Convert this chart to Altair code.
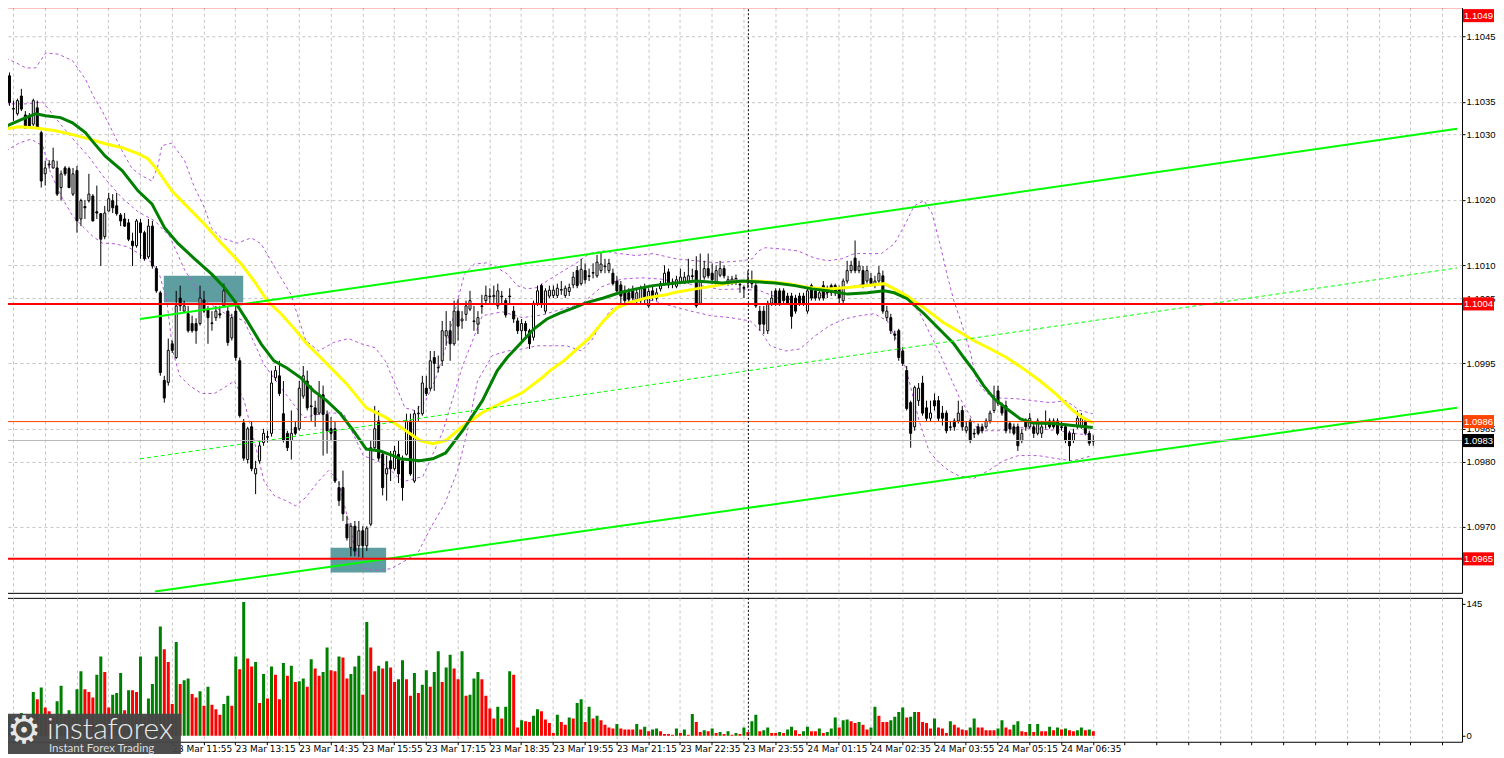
import altair as alt
import pandas as pd

# ---------------- candle data (EURUSD M5, 23-24 Mar) ----------------
opens = [
    1.10400, 1.10390, 1.10340, 1.10332, 1.10359, 1.10330, 1.10327, 1.10316, 1.10341, 1.10303,
    1.10240, 1.10254, 1.10249, 1.10249, 1.10219, 1.10249, 1.10248, 1.10209, 1.10245, 1.10171,
    1.10190, 1.10199, 1.10206, 1.10182, 1.10179, 1.10144, 1.10183, 1.10199, 1.10191, 1.10177,
    1.10171, 1.10165, 1.10137, 1.10130, 1.10165, 1.10150, 1.10113, 1.10160, 1.10095, 1.10058,
    1.09924, 1.09921, 1.09980, 1.09959, 1.10050, 1.10030, 1.10026, 1.10011, 1.10011, 1.10011,
    1.10047, 1.10033, 1.10012, 1.10020, 1.10026, 1.10038, 1.10030, 1.09989, 1.10030, 1.09954,
    1.09859, 1.09803, 1.09853, 1.09781, 1.09801, 1.09829, 1.09838, 1.09843, 1.09928, 1.09931,
    1.09873, 1.09843, 1.09832, 1.09852, 1.09850, 1.09900, 1.09923, 1.09885, 1.09882, 1.09874,
    1.09902, 1.09872, 1.09850, 1.09850, 1.09760, 1.09760, 1.09704, 1.09668, 1.09701, 1.09671,
    1.09694, 1.09671, 1.09704, 1.09821, 1.09862, 1.09811, 1.09781, 1.09801, 1.09789, 1.09811,
    1.09801, 1.09811, 1.09862, 1.09770, 1.09873, 1.09873, 1.09912, 1.09912, 1.09959, 1.09943,
    1.09954, 1.09992, 1.10000, 1.09980, 1.10030, 1.10015, 1.10025, 1.10033, 1.10015, 1.10010,
    1.10038, 1.10046, 1.10053, 1.10052, 1.10038, 1.10053, 1.10046, 1.10053, 1.10030, 1.10015,
    1.10000, 1.10011, 1.10000, 1.09990, 1.10042, 1.10069, 1.10030, 1.10053, 1.10054, 1.10054,
    1.10062, 1.10054, 1.10060, 1.10070, 1.10092, 1.10072, 1.10092, 1.10084, 1.10088, 1.10084,
    1.10092, 1.10099, 1.10092, 1.10088, 1.10076, 1.10070, 1.10061, 1.10058, 1.10061, 1.10048,
    1.10046, 1.10065, 1.10038, 1.10061, 1.10050, 1.10064, 1.10072, 1.10090, 1.10072, 1.10068,
    1.10075, 1.10075, 1.10075, 1.10084, 1.10092, 1.10042, 1.10082, 1.10095, 1.10088, 1.10072,
    1.10085, 1.10095, 1.10072, 1.10074, 1.10074, 1.10071, 1.10066, 1.10073, 1.10076, 1.10069,
    1.10030, 1.10030, 1.10000, 1.10042, 1.10061, 1.10061, 1.10061, 1.10053, 1.10053, 1.10050,
    1.10053, 1.10053, 1.10030, 1.10069, 1.10061, 1.10050, 1.10069, 1.10065, 1.10069, 1.10069,
    1.10065, 1.10046, 1.10076, 1.10092, 1.10111, 1.10092, 1.10092, 1.10076, 1.10080, 1.10069,
    1.10076, 1.10084, 1.10020, 1.10020, 1.09995, 1.10000, 1.09969, 1.09939, 1.09890, 1.09853,
    1.09893, 1.09920, 1.09882, 1.09866, 1.09893, 1.09893, 1.09874, 1.09874, 1.09853, 1.09862,
    1.09862, 1.09878, 1.09847, 1.09862, 1.09843, 1.09853, 1.09853, 1.09853, 1.09862, 1.09878,
    1.09908, 1.09885, 1.09885, 1.09858, 1.09853, 1.09853, 1.09832, 1.09862, 1.09853, 1.09853,
    1.09843, 1.09843, 1.09858, 1.09862, 1.09862, 1.09862, 1.09853, 1.09853, 1.09843, 1.09832,
    1.09853, 1.09853, 1.09862, 1.09843, 1.09832,
]
highs = [
    1.10410, 1.10395, 1.10352, 1.10355, 1.10370, 1.10336, 1.10333, 1.10355, 1.10352, 1.10306,
    1.10260, 1.10261, 1.10280, 1.10260, 1.10245, 1.10252, 1.10251, 1.10249, 1.10252, 1.10202,
    1.10200, 1.10240, 1.10209, 1.10222, 1.10180, 1.10191, 1.10211, 1.10209, 1.10211, 1.10180,
    1.10180, 1.10171, 1.10150, 1.10171, 1.10171, 1.10153, 1.10171, 1.10168, 1.10099, 1.10061,
    1.09931, 1.09988, 1.09985, 1.10061, 1.10069, 1.10046, 1.10038, 1.10023, 1.10019, 1.10069,
    1.10061, 1.10038, 1.10030, 1.10038, 1.10038, 1.10072, 1.10038, 1.10026, 1.10046, 1.09959,
    1.09865, 1.09853, 1.09862, 1.09801, 1.09832, 1.09850, 1.09847, 1.09939, 1.09946, 1.09954,
    1.09923, 1.09847, 1.09878, 1.09862, 1.09923, 1.09946, 1.09939, 1.09916, 1.09893, 1.09923,
    1.09916, 1.09878, 1.09868, 1.09862, 1.09770, 1.09786, 1.09717, 1.09706, 1.09709, 1.09709,
    1.09701, 1.09701, 1.09832, 1.09885, 1.09878, 1.09816, 1.09809, 1.09816, 1.09824, 1.09832,
    1.09809, 1.09873, 1.09873, 1.09878, 1.09885, 1.09931, 1.09931, 1.09969, 1.09969, 1.09962,
    1.10015, 1.10030, 1.10015, 1.10046, 1.10049, 1.10030, 1.10046, 1.10061, 1.10038, 1.10030,
    1.10055, 1.10069, 1.10065, 1.10069, 1.10072, 1.10061, 1.10050, 1.10065, 1.10038, 1.10020,
    1.10018, 1.10015, 1.10003, 1.10046, 1.10069, 1.10072, 1.10065, 1.10069, 1.10069, 1.10072,
    1.10076, 1.10069, 1.10072, 1.10090, 1.10099, 1.10110, 1.10103, 1.10095, 1.10103, 1.10116,
    1.10120, 1.10110, 1.10110, 1.10095, 1.10084, 1.10076, 1.10069, 1.10065, 1.10069, 1.10065,
    1.10069, 1.10072, 1.10065, 1.10069, 1.10065, 1.10076, 1.10100, 1.10095, 1.10080, 1.10084,
    1.10095, 1.10090, 1.10110, 1.10095, 1.10114, 1.10118, 1.10107, 1.10118, 1.10103, 1.10100,
    1.10107, 1.10100, 1.10084, 1.10084, 1.10086, 1.10078, 1.10069, 1.10092, 1.10092, 1.10076,
    1.10038, 1.10038, 1.10046, 1.10061, 1.10065, 1.10065, 1.10065, 1.10058, 1.10058, 1.10055,
    1.10058, 1.10058, 1.10065, 1.10072, 1.10065, 1.10065, 1.10076, 1.10069, 1.10072, 1.10072,
    1.10069, 1.10080, 1.10107, 1.10107, 1.10138, 1.10107, 1.10099, 1.10099, 1.10088, 1.10084,
    1.10099, 1.10092, 1.10038, 1.10026, 1.10000, 1.10003, 1.09975, 1.09946, 1.09893, 1.09916,
    1.09920, 1.09931, 1.09893, 1.09893, 1.09904, 1.09900, 1.09885, 1.09878, 1.09862, 1.09866,
    1.09893, 1.09885, 1.09862, 1.09866, 1.09850, 1.09858, 1.09858, 1.09866, 1.09878, 1.09916,
    1.09916, 1.09890, 1.09893, 1.09862, 1.09858, 1.09858, 1.09850, 1.09866, 1.09874, 1.09858,
    1.09866, 1.09862, 1.09878, 1.09866, 1.09866, 1.09866, 1.09862, 1.09858, 1.09847, 1.09850,
    1.09878, 1.09874, 1.09866, 1.09847, 1.09840,
]
lows = [
    1.10375, 1.10344, 1.10321, 1.10329, 1.10336, 1.10309, 1.10309, 1.10313, 1.10309, 1.10219,
    1.10222, 1.10248, 1.10248, 1.10206, 1.10199, 1.10237, 1.10218, 1.10206, 1.10150, 1.10160,
    1.10171, 1.10196, 1.10167, 1.10171, 1.10099, 1.10140, 1.10183, 1.10180, 1.10176, 1.10160,
    1.10159, 1.10137, 1.10099, 1.10127, 1.10110, 1.10107, 1.10110, 1.10095, 1.10058, 1.09931,
    1.09890, 1.09916, 1.09966, 1.09957, 1.10030, 1.10027, 1.09997, 1.09997, 1.09980, 1.10008,
    1.10027, 1.09980, 1.10000, 1.10015, 1.10019, 1.10035, 1.09977, 1.09985, 1.09954, 1.09867,
    1.09801, 1.09797, 1.09785, 1.09750, 1.09797, 1.09824, 1.09829, 1.09838, 1.09923, 1.09900,
    1.09829, 1.09816, 1.09803, 1.09840, 1.09847, 1.09896, 1.09878, 1.09862, 1.09853, 1.09871,
    1.09809, 1.09812, 1.09832, 1.09767, 1.09732, 1.09709, 1.09679, 1.09655, 1.09655, 1.09654,
    1.09651, 1.09663, 1.09701, 1.09816, 1.09801, 1.09748, 1.09740, 1.09770, 1.09786, 1.09767,
    1.09740, 1.09809, 1.09778, 1.09767, 1.09862, 1.09870, 1.09900, 1.09907, 1.09908, 1.09936,
    1.09946, 1.09977, 1.09954, 1.09977, 1.09985, 1.10003, 1.10015, 1.10030, 1.10000, 1.09995,
    1.10026, 1.10040, 1.10040, 1.10040, 1.10033, 1.10040, 1.10020, 1.10040, 1.10012, 1.09995,
    1.09985, 1.09992, 1.09972, 1.09985, 1.10038, 1.10035, 1.10026, 1.10050, 1.10050, 1.10050,
    1.10055, 1.10050, 1.10053, 1.10065, 1.10065, 1.10069, 1.10072, 1.10076, 1.10080, 1.10081,
    1.10088, 1.10088, 1.10088, 1.10069, 1.10058, 1.10042, 1.10038, 1.10042, 1.10046, 1.10042,
    1.10042, 1.10040, 1.10035, 1.10046, 1.10046, 1.10060, 1.10069, 1.10065, 1.10065, 1.10065,
    1.10072, 1.10072, 1.10072, 1.10078, 1.10035, 1.10040, 1.10078, 1.10080, 1.10072, 1.10068,
    1.10082, 1.10080, 1.10069, 1.10070, 1.10070, 1.10058, 1.10050, 1.10065, 1.10065, 1.10035,
    1.10000, 1.09995, 1.09995, 1.10038, 1.10038, 1.10038, 1.10042, 1.10040, 1.10003, 1.10026,
    1.10038, 1.10038, 1.10026, 1.10046, 1.10046, 1.10046, 1.10046, 1.10050, 1.10053, 1.10053,
    1.10042, 1.10042, 1.10072, 1.10088, 1.10088, 1.10088, 1.10065, 1.10072, 1.10069, 1.10065,
    1.10072, 1.10026, 1.10015, 1.09995, 1.09985, 1.09954, 1.09946, 1.09878, 1.09821, 1.09847,
    1.09885, 1.09870, 1.09862, 1.09862, 1.09878, 1.09862, 1.09855, 1.09843, 1.09847, 1.09847,
    1.09858, 1.09847, 1.09843, 1.09828, 1.09836, 1.09840, 1.09843, 1.09850, 1.09858, 1.09874,
    1.09885, 1.09870, 1.09843, 1.09843, 1.09840, 1.09816, 1.09828, 1.09847, 1.09850, 1.09836,
    1.09840, 1.09836, 1.09850, 1.09850, 1.09850, 1.09840, 1.09847, 1.09828, 1.09801, 1.09828,
    1.09850, 1.09850, 1.09840, 1.09824, 1.09824,
]
closes = [
    1.10380, 1.10349, 1.10339, 1.10352, 1.10339, 1.10310, 1.10312, 1.10352, 1.10310, 1.10229,
    1.10249, 1.10255, 1.10260, 1.10209, 1.10240, 1.10240, 1.10219, 1.10240, 1.10168, 1.10199,
    1.10188, 1.10209, 1.10168, 1.10180, 1.10140, 1.10180, 1.10202, 1.10188, 1.10179, 1.10168,
    1.10160, 1.10140, 1.10130, 1.10168, 1.10150, 1.10110, 1.10160, 1.10099, 1.10061, 1.09936,
    1.09897, 1.09970, 1.09970, 1.10038, 1.10038, 1.10038, 1.10000, 1.10000, 1.10000, 1.10050,
    1.10030, 1.10020, 1.10011, 1.10030, 1.10024, 1.10061, 1.09982, 1.10020, 1.09959, 1.09870,
    1.09805, 1.09850, 1.09789, 1.09789, 1.09824, 1.09843, 1.09837, 1.09920, 1.09939, 1.09904,
    1.09832, 1.09821, 1.09843, 1.09843, 1.09912, 1.09931, 1.09882, 1.09884, 1.09872, 1.09900,
    1.09872, 1.09847, 1.09843, 1.09770, 1.09740, 1.09720, 1.09683, 1.09701, 1.09663, 1.09694,
    1.09671, 1.09698, 1.09821, 1.09850, 1.09805, 1.09760, 1.09789, 1.09789, 1.09816, 1.09781,
    1.09760, 1.09862, 1.09781, 1.09873, 1.09874, 1.09920, 1.09904, 1.09954, 1.09950, 1.09944,
    1.10000, 1.10000, 1.09980, 1.10030, 1.10007, 1.10018, 1.10038, 1.10046, 1.10014, 1.10020,
    1.10037, 1.10054, 1.10052, 1.10054, 1.10061, 1.10052, 1.10024, 1.10052, 1.10018, 1.10000,
    1.10011, 1.10000, 1.09980, 1.10042, 1.10061, 1.10040, 1.10061, 1.10062, 1.10062, 1.10065,
    1.10063, 1.10065, 1.10066, 1.10082, 1.10069, 1.10094, 1.10078, 1.10083, 1.10089, 1.10105,
    1.10102, 1.10098, 1.10103, 1.10072, 1.10061, 1.10053, 1.10046, 1.10048, 1.10050, 1.10058,
    1.10065, 1.10048, 1.10060, 1.10052, 1.10058, 1.10072, 1.10088, 1.10070, 1.10071, 1.10078,
    1.10082, 1.10082, 1.10084, 1.10083, 1.10038, 1.10076, 1.10095, 1.10084, 1.10078, 1.10092,
    1.10095, 1.10084, 1.10078, 1.10079, 1.10080, 1.10070, 1.10065, 1.10078, 1.10072, 1.10038,
    1.10010, 1.10010, 1.10042, 1.10050, 1.10042, 1.10042, 1.10046, 1.10042, 1.10022, 1.10030,
    1.10042, 1.10042, 1.10061, 1.10050, 1.10050, 1.10058, 1.10050, 1.10058, 1.10058, 1.10058,
    1.10050, 1.10076, 1.10092, 1.10100, 1.10092, 1.10099, 1.10069, 1.10092, 1.10072, 1.10076,
    1.10088, 1.10030, 1.10030, 1.10000, 1.09993, 1.09959, 1.09950, 1.09881, 1.09843, 1.09913,
    1.09912, 1.09874, 1.09866, 1.09874, 1.09885, 1.09866, 1.09866, 1.09847, 1.09852, 1.09853,
    1.09874, 1.09853, 1.09853, 1.09832, 1.09842, 1.09843, 1.09847, 1.09862, 1.09874, 1.09897,
    1.09889, 1.09874, 1.09847, 1.09850, 1.09843, 1.09824, 1.09843, 1.09853, 1.09866, 1.09843,
    1.09862, 1.09853, 1.09857, 1.09853, 1.09853, 1.09843, 1.09852, 1.09832, 1.09824, 1.09843,
    1.09866, 1.09866, 1.09843, 1.09828, 1.09831,
]
volumes = [
    18, 22, 15, 20, 25, 17, 21, 48, 40, 53,
    31, 27, 20, 38, 55, 22, 28, 20, 51, 71,
    51, 48, 42, 67, 87, 70, 31, 45, 47, 69,
    28, 50, 50, 48, 87, 20, 41, 57, 87, 120,
    95, 81, 35, 103, 57, 61, 63, 46, 42, 49,
    33, 54, 34, 29, 23, 35, 44, 33, 87, 73,
    147, 85, 76, 81, 36, 68, 41, 76, 67, 40,
    80, 66, 77, 59, 60, 63, 54, 84, 74, 66,
    70, 97, 72, 71, 87, 86, 63, 68, 76, 88,
    45, 125, 97, 71, 77, 74, 82, 75, 59, 62,
    83, 62, 44, 69, 47, 56, 72, 54, 70, 93,
    59, 75, 89, 74, 62, 93, 44, 45, 63, 70,
    62, 44, 30, 19, 32, 19, 32, 71, 67, 9,
    17, 16, 15, 22, 29, 27, 18, 14, 3, 23,
    15, 12, 20, 19, 36, 40, 15, 32, 19, 22,
    17, 12, 9, 8, 13, 8, 7, 7, 7, 13,
    7, 10, 5, 7, 8, 5, 2, 2, 1, 8,
    3, 7, 1, 24, 15, 4, 6, 5, 8, 3,
    4, 2, 5, 1, 3, 2, 9, 4, 16, 23,
    5, 6, 9, 3, 3, 4, 3, 7, 10, 6,
    2, 5, 10, 5, 5, 8, 3, 4, 8, 20,
    9, 17, 18, 16, 14, 15, 12, 7, 9, 32,
    22, 15, 15, 17, 21, 26, 31, 20, 21, 26,
    26, 15, 14, 8, 19, 9, 8, 3, 16, 12,
    9, 7, 6, 9, 19, 9, 9, 6, 6, 6,
    8, 17, 9, 7, 12, 16, 5, 4, 13, 4,
    13, 5, 5, 10, 6, 9, 7, 8, 6, 5,
    6, 9, 6, 7, 5,
]

# ---------------- indicator lines ----------------
ma_green_i = [0.25, 5.25, 7.75, 10.25, 14, 17, 20.25, 22, 25.25, 29.5, 33.5, 37, 40.25, 43.5, 47.75,
              52, 55.25, 57.75, 61, 64.5, 67.75, 71, 74.5, 77.75, 81, 84.5, 87.75, 91, 94.5, 97.75,
              99.5, 104.5, 107.75, 111, 115.25, 120.25, 124, 126.5, 129.75, 133.25, 136.5, 139.75,
              143.25, 146.5, 150.75, 154.75, 159, 163.25, 169, 174, 180.75, 185.75, 189, 194, 199,
              203.25, 207.25, 212.25, 217.25, 221.5, 224, 227.25, 231.5, 235.75, 239, 241.5, 244,
              246.5, 249, 252.25, 255.75, 259, 264, 269, 274]
ma_green_p = [1.10313, 1.10326, 1.10332, 1.10329, 1.10326, 1.10318, 1.10303, 1.10290, 1.10267, 1.10245,
              1.10214, 1.10194, 1.10157, 1.10134, 1.10110, 1.10087, 1.10066, 1.10046, 1.10015, 1.09980,
              1.09954, 1.09943, 1.09928, 1.09908, 1.09893, 1.09873, 1.09847, 1.09819, 1.09816, 1.09809,
              1.09804, 1.09801, 1.09804, 1.09813, 1.09847, 1.09893, 1.09939, 1.09959, 1.09980, 1.10003,
              1.10018, 1.10027, 1.10035, 1.10043, 1.10050, 1.10058, 1.10064, 1.10069, 1.10073, 1.10076,
              1.10073, 1.10076, 1.10075, 1.10073, 1.10069, 1.10064, 1.10061, 1.10056, 1.10058, 1.10061,
              1.10058, 1.10049, 1.10026, 1.10000, 1.09980, 1.09959, 1.09939, 1.09916, 1.09897, 1.09881,
              1.09865, 1.09859, 1.09858, 1.09855, 1.09852]

ma_yellow_i = [0.25, 3.5, 7.75, 12.75, 17, 22, 25.25, 29.5, 33.5, 36, 38.5, 42, 47, 50.25, 54.5, 59.5,
               62.75, 66, 69.5, 72.75, 76, 79.5, 82.75, 86, 91, 96, 101, 104.5, 107.75, 111, 114.5,
               120.25, 125.25, 130.25, 135.25, 137.25, 140.75, 144, 147.25, 150.75, 154, 157.25, 161.5,
               166.5, 169, 174, 179, 184, 189, 192.25, 197.25, 202.25, 207.25, 212.25, 217.25, 221.5,
               224, 227.25, 231.5, 236.5, 240.75, 244, 248.25, 252.25, 256.5, 260.75, 264.75, 269,
               271.5, 274]
ma_yellow_p = [1.10309, 1.10312, 1.10310, 1.10306, 1.10300, 1.10292, 1.10286, 1.10280, 1.10271, 1.10263,
               1.10245, 1.10214, 1.10183, 1.10163, 1.10134, 1.10102, 1.10076, 1.10046, 1.10026, 1.10004,
               1.09980, 1.09959, 1.09939, 1.09919, 1.09882, 1.09867, 1.09847, 1.09832, 1.09827, 1.09832,
               1.09850, 1.09875, 1.09890, 1.09905, 1.09928, 1.09939, 1.09954, 1.09972, 1.09989, 1.10015,
               1.10035, 1.10043, 1.10050, 1.10055, 1.10059, 1.10064, 1.10069, 1.10075, 1.10076, 1.10075,
               1.10072, 1.10066, 1.10064, 1.10066, 1.10069, 1.10072, 1.10064, 1.10053, 1.10035, 1.10012,
               1.09997, 1.09985, 1.09972, 1.09959, 1.09942, 1.09923, 1.09903, 1.09878, 1.09867, 1.09859]

bb_upper_i = [0.25, 2.75, 5.25, 7.75, 10.25, 13.5, 17, 20.25, 22.25, 24.5, 27, 29.5, 32, 34.5, 37, 38.5,
              39.5, 42, 45.25, 47.75, 50.25, 52, 54.5, 58.5, 62, 64.5, 67, 69.5, 72, 74, 75.75, 79,
              82.75, 86.5, 89.75, 93.25, 95.75, 98.25, 100.75, 103.25, 105.75, 108.25, 110.75, 114,
              115.75, 118.25, 121.5, 124, 126.5, 129, 131.5, 134, 136.5, 140.75, 144, 147.25, 150.75,
              154.75, 159, 163.25, 169, 174, 179, 185.75, 188.25, 189.75, 191.5, 195.75, 199.75, 204,
              207.25, 210.75, 214, 218.25, 220.75, 224, 226.5, 229, 231.5, 233.5, 235.75, 237.25, 239,
              240.75, 243.25, 244.75, 247.25, 250.75, 254.75, 259, 263.25, 267.25, 270.75, 274]
bb_upper_p = [1.10417, 1.10410, 1.10402, 1.10402, 1.10425, 1.10423, 1.10413, 1.10385, 1.10359, 1.10336,
              1.10306, 1.10275, 1.10248, 1.10237, 1.10229, 1.10252, 1.10283, 1.10287, 1.10260, 1.10219,
              1.10188, 1.10157, 1.10142, 1.10134, 1.10142, 1.10133, 1.10107, 1.10081, 1.10056, 1.10018,
              1.09985, 1.09969, 1.09982, 1.09988, 1.09980, 1.09974, 1.09954, 1.09919, 1.09882, 1.09878,
              1.09890, 1.09923, 1.09969, 1.10046, 1.10087, 1.10102, 1.10104, 1.10096, 1.10087, 1.10069,
              1.10064, 1.10066, 1.10076, 1.10092, 1.10104, 1.10118, 1.10122, 1.10118, 1.10115, 1.10118,
              1.10110, 1.10107, 1.10104, 1.10107, 1.10110, 1.10122, 1.10127, 1.10125, 1.10122, 1.10111,
              1.10107, 1.10110, 1.10118, 1.10118, 1.10118, 1.10133, 1.10160, 1.10191, 1.10199, 1.10180,
              1.10127, 1.10087, 1.10046, 1.10015, 1.09965, 1.09923, 1.09904, 1.09897, 1.09896, 1.09893,
              1.09890, 1.09893, 1.09878, 1.09873]

bb_mid_i = [0.25, 5.25, 9.5, 14.5, 17.75, 21, 25.25, 29.5, 33.5, 37.75, 41.5, 45.25, 50.25, 55.25, 60.25,
            65.25, 70.25, 75.25, 80.25, 85.25, 90.25, 95.25, 100.25, 105.25, 110.25, 115.25, 120.25,
            125.25, 130.25, 135.25, 140.25, 145.25, 150.25, 155.25, 160.25, 165.25, 170.25, 175.25,
            180.25, 185.25, 190.25, 195.25, 200.25, 205.25, 210.25, 215.25, 220.25, 225.25, 230.25,
            235.25, 240.25, 245.25, 250.25, 255.25, 260.25, 265.25, 270.25, 274]
bb_mid_p = [1.10347, 1.10347, 1.10350, 1.10312, 1.10289, 1.10267, 1.10232, 1.10203, 1.10182, 1.10168,
            1.10144, 1.10093, 1.10046, 1.10027, 1.10015, 1.09948, 1.09907, 1.09867, 1.09874, 1.09874,
            1.09809, 1.09797, 1.09769, 1.09777, 1.09845, 1.09946, 1.10023, 1.10029, 1.10020, 1.10024,
            1.10033, 1.10041, 1.10067, 1.10079, 1.10081, 1.10079, 1.10073, 1.10069, 1.10063, 1.10064,
            1.10061, 1.10049, 1.10047, 1.10053, 1.10064, 1.10070, 1.10072, 1.10061, 1.10029, 1.09968,
            1.09900, 1.09847, 1.09847, 1.09852, 1.09850, 1.09847, 1.09842, 1.09841]

bb_lower_i = [0.25, 3.5, 6.5, 9.5, 11.5, 14.5, 17, 19.5, 22, 24.5, 27.75, 31, 33.5, 37, 39, 40.75, 42.25,
              44, 46.5, 49.5, 52.75, 55.25, 57.75, 60.25, 62.75, 65.25, 67.75, 70.75, 73.25, 75.75, 79,
              81.5, 84, 86.5, 88.25, 90.25, 93.25, 97.25, 100.75, 104, 107.25, 110.75, 114, 116.5, 119,
              122.75, 126.5, 130.25, 134, 137.75, 141.5, 145.25, 147.75, 150.25, 152.75, 156.5, 159,
              163.25, 167.75, 172.75, 177.75, 182.75, 187.75, 190.25, 192.75, 196.5, 200.25, 204,
              207.75, 211.5, 215.25, 219, 222.25, 225.25, 227.75, 230.25, 232.75, 235.25, 237.75,
              240.25, 244, 247.75, 251.5, 255.25, 260.25, 265.25, 269, 274]
bb_lower_p = [1.10275, 1.10287, 1.10293, 1.10283, 1.10241, 1.10202, 1.10176, 1.10160, 1.10145, 1.10134,
              1.10133, 1.10128, 1.10119, 1.10104, 1.10084, 1.10046, 1.09969, 1.09931, 1.09916, 1.09904,
              1.09904, 1.09913, 1.09923, 1.09893, 1.09832, 1.09770, 1.09748, 1.09740, 1.09732, 1.09745,
              1.09770, 1.09786, 1.09770, 1.09709, 1.09663, 1.09637, 1.09633, 1.09636, 1.09648, 1.09660,
              1.09699, 1.09735, 1.09786, 1.09847, 1.09923, 1.09962, 1.09969, 1.09972, 1.09977, 1.09977,
              1.09977, 1.09969, 1.09985, 1.10012, 1.10033, 1.10043, 1.10049, 1.10046, 1.10038, 1.10030,
              1.10023, 1.10020, 1.10015, 1.10000, 1.09977, 1.09969, 1.09972, 1.09992, 1.10008, 1.10018,
              1.10023, 1.10026, 1.10015, 1.09977, 1.09923, 1.09862, 1.09816, 1.09798, 1.09786, 1.09778,
              1.09774, 1.09786, 1.09801, 1.09809, 1.09809, 1.09804, 1.09801, 1.09809]

# trend channel (two points per line)
chan_upper_i = [34, 365.75]
chan_upper_p = [1.10018, 1.10309]
chan_lower_i = [37.75, 365.75]
chan_lower_p = [1.09601, 1.09882]
chan_mid_i = [34, 365.75]
chan_mid_p = [1.09804, 1.10096]

# highlighted zones
zone_i0 = [40, 82]
zone_i1 = [60, 96]
zone_top = [1.10084, 1.09668]
zone_bot = [1.10043, 1.09630]

# horizontal levels
levels = [1.10495, 1.10041, 1.09651]
level_labels = ["1.1049", "1.1004", "1.0965"]
ask_level = [1.09861]
ask_label = ["1.0986"]
bid_level = [1.09832]
bid_label = ["1.0983"]

crosshair_i = [187.25]

price_ticks = [1.1045, 1.1035, 1.1030, 1.1020, 1.1010, 1.1005, 1.0995, 1.0985, 1.0980, 1.0970]
vol_ticks = [0, 145]
time_tick_i = [42, 58, 74, 90, 106, 122, 138, 154, 170, 186, 202, 218, 234, 250, 266]
time_tick_labels = ["23 Mar 11:55", "23 Mar 13:15", "23 Mar 14:35",
                    "23 Mar 15:55", "23 Mar 17:15", "23 Mar 18:35", "23 Mar 19:55", "23 Mar 21:15",
                    "23 Mar 22:35", "23 Mar 23:55", "24 Mar 01:15", "24 Mar 02:35", "24 Mar 03:55",
                    "24 Mar 05:15", "24 Mar 06:35"]
grid_i = list(range(2, 366, 8))

# ---------------- tables ----------------
n = len(closes)
candles = pd.DataFrame({"i": list(range(n)), "open": opens, "high": highs, "low": lows, "close": closes})
vol_df = pd.DataFrame({"i": list(range(n)), "vol": volumes})
green_df = pd.DataFrame({"i": ma_green_i, "p": ma_green_p})
yellow_df = pd.DataFrame({"i": ma_yellow_i, "p": ma_yellow_p})
bb_df = pd.concat([
    pd.DataFrame({"i": bb_upper_i, "p": bb_upper_p, "b": "upper"}),
    pd.DataFrame({"i": bb_mid_i, "p": bb_mid_p, "b": "mid"}),
    pd.DataFrame({"i": bb_lower_i, "p": bb_lower_p, "b": "lower"}),
])
chan_solid = pd.concat([
    pd.DataFrame({"i": chan_upper_i, "p": chan_upper_p, "k": "u"}),
    pd.DataFrame({"i": chan_lower_i, "p": chan_lower_p, "k": "l"}),
])
chan_dash = pd.DataFrame({"i": chan_mid_i, "p": chan_mid_p})
zones = pd.DataFrame({"i": zone_i0, "i1": zone_i1, "top": zone_top, "bot": zone_bot})
lev_df = pd.DataFrame({"p": levels})
ask_df = pd.DataFrame({"p": ask_level})
bid_df = pd.DataFrame({"p": bid_level})
box_colors = ["#ff0000", "#ff0000", "#ff0000", "#ff4500", "#000000"]
boxes = pd.DataFrame({"p": levels + ask_level + bid_level,
                      "t": level_labels + ask_label + bid_label,
                      "c": box_colors})
cross_df = pd.DataFrame({"i": crosshair_i})
one = pd.DataFrame({"a": [0]})

# ---------------- scales / axes ----------------
FONT = "DejaVu Sans"
AXFONT = "Liberation Sans"
GRID = "#c4c4c4"
W = 1462
H_MAIN = 592
H_VOL = 144
Y_TOP = 1.10504

xscale = alt.Scale(domain=[0.25, 365.75], nice=False, zero=False)
yscale = alt.Scale(domain=[1.09599, Y_TOP], nice=False, zero=False)
vscale = alt.Scale(domain=[-6.6, 151.6], nice=False, zero=False)

x_axis_main = alt.Axis(values=grid_i, grid=True, gridColor=GRID, gridDash=[3, 3], labels=False,
                       ticks=False, domain=False, title=None, zindex=0)
y_axis_main = alt.Axis(orient="right", values=price_ticks, format=".4f", grid=True, gridColor=GRID,
                       gridDash=[3, 3], labelFont=AXFONT, labelFontSize=9.5, labelColor="black",
                       tickColor="black", tickSize=3, labelPadding=1, domain=False, title=None,
                       labelOverlap=False, zindex=0)

label_expr = "''"
for ti, tl in reversed(list(zip(time_tick_i, time_tick_labels))):
    label_expr = f"datum.value == {ti} ? '{tl}' : ({label_expr})"

x_axis_vol = alt.Axis(values=grid_i, grid=True, gridColor=GRID, gridDash=[3, 3], labelExpr=label_expr,
                      labelAlign="left", labelBaseline="top", labelFont=FONT, labelFontSize=9,
                      labelColor="black", labelPadding=0, tickSize=3, tickColor="black",
                      domain=False, title=None, labelOverlap=False, labelFlush=False, zindex=0)
y_axis_vol = alt.Axis(orient="right", values=vol_ticks, format="d", grid=False, labelFont=AXFONT,
                      labelFontSize=9.5, labelColor="black", tickColor="black", tickSize=3,
                      labelPadding=1, domain=False, title=None, labelOverlap=False, zindex=0)


def X(f):
    return alt.X(f"{f}:Q", scale=xscale, axis=x_axis_main)


def Y(f):
    return alt.Y(f"{f}:Q", scale=yscale, axis=y_axis_main)


def XV(f):
    return alt.X(f"{f}:Q", scale=xscale, axis=x_axis_vol)


def YV(f):
    return alt.Y(f"{f}:Q", scale=vscale, axis=y_axis_vol)


# invisible anchor so the page offset is deterministic
anchor = alt.Chart(one).mark_rect(opacity=0, clip=False).encode(
    x=alt.value(-10), x2=alt.value(-9), y=alt.value(-10), y2=alt.value(-9))

# ---------------- main price panel ----------------
zone_layer = alt.Chart(zones).mark_rect(color="#5f9ea0", clip=True).encode(
    x=X("i"), x2="i1:Q", y=Y("top"), y2="bot:Q")

bb_layer = alt.Chart(bb_df).mark_line(color="#b455d9", strokeWidth=1, strokeDash=[3, 3], clip=True).encode(
    x=X("i"), y=Y("p"), detail="b:N")

wicks = alt.Chart(candles).mark_rule(color="black", strokeWidth=1, xOffset=0.5, clip=True).encode(
    x=X("i"), y=Y("low"), y2="high:Q")

bodies = alt.Chart(candles).transform_calculate(
    fc="datum.close >= datum.open ? 'white' : 'black'"
).mark_bar(size=2, stroke="black", strokeWidth=1, xOffset=0.5, clip=True).encode(
    x=X("i"), y=Y("open"), y2="close:Q", fill=alt.Fill("fc:N", scale=None))

yellow_layer = alt.Chart(yellow_df).mark_line(color="#ffff00", strokeWidth=3, clip=True).encode(
    x=X("i"), y=Y("p"))
green_layer = alt.Chart(green_df).mark_line(color="#008000", strokeWidth=3, clip=True).encode(
    x=X("i"), y=Y("p"))

chan_layer = alt.Chart(chan_solid).mark_line(color="#00ff00", strokeWidth=2, clip=True).encode(
    x=X("i"), y=Y("p"), detail="k:N")
chan_mid_layer = alt.Chart(chan_dash).mark_line(color="#00ff00", strokeWidth=1, strokeDash=[4, 3],
                                                 clip=True).encode(x=X("i"), y=Y("p"))

bid_layer = alt.Chart(bid_df).mark_rule(color="#b8b8b8", strokeWidth=1).encode(y=Y("p"))
ask_layer = alt.Chart(ask_df).mark_rule(color="#ff4500", strokeWidth=1).encode(y=Y("p"))
lev_layer = alt.Chart(lev_df).mark_rule(color="#ff0000", strokeWidth=2).encode(y=Y("p"))

cross_main = alt.Chart(cross_df).mark_rule(color="black", strokeWidth=1, strokeDash=[2, 2]).encode(
    x=X("i"))

# price tags on the right axis (kept inside the visible page area)
box_base = alt.Chart(boxes).transform_calculate(
    top=f"min(datum.p + 0.0001, {Y_TOP - 0.00012})"
).transform_calculate(
    bot="datum.top - 0.0002"
).transform_calculate(
    mid="datum.top - 0.0001"
)
box_rects = box_base.mark_rect(clip=False).encode(
    x=alt.value(W + 1), x2=alt.value(W + 32), y=Y("top"), y2="bot:Q",
    color=alt.Color("c:N", scale=None))
box_text = box_base.mark_text(font=AXFONT, fontSize=9.5, color="white", align="center",
                              baseline="middle", clip=False).encode(
    x=alt.value(W + 16.5), y=Y("mid"), text="t:N")

main = alt.layer(
    anchor, zone_layer, bb_layer, wicks, bodies, yellow_layer, green_layer, chan_layer,
    chan_mid_layer, bid_layer, ask_layer, lev_layer, cross_main, box_rects, box_text
).properties(width=W, height=H_MAIN)

# ---------------- volume panel ----------------
vol_bars = alt.Chart(vol_df).transform_window(
    prev="lag(vol)", sort=[alt.SortField("i")]
).transform_calculate(
    vc="datum.prev != null && datum.vol <= datum.prev ? '#ff0000' : '#008000'"
).mark_bar(size=3, xOffset=0.5, clip=True).encode(
    x=XV("i"), y=YV("vol"), y2=alt.datum(0), color=alt.Color("vc:N", scale=None))

cross_vol = alt.Chart(cross_df).mark_rule(color="black", strokeWidth=1, strokeDash=[2, 2]).encode(
    x=XV("i"))

logo_bg = alt.Chart(one).mark_rect(color="#464646", opacity=0.96, clip=False).encode(
    x=alt.value(0), x2=alt.value(180), y=alt.value(116), y2=alt.value(163))
logo_gear = alt.Chart(one).mark_text(text="\u2699", font=FONT, fontSize=38, color="#e8e8e8",
                                     align="left", baseline="middle", clip=False).encode(
    x=alt.value(6), y=alt.value(134))
logo_name = alt.Chart(one).mark_text(text="instaforex", font="Lato", fontSize=30, fontWeight=300,
                                     color="#e8e8e8", align="left", baseline="alphabetic",
                                     clip=False).encode(x=alt.value(46), y=alt.value(141))
logo_tag = alt.Chart(one).mark_text(text="Instant Forex Trading", font="Lato", fontSize=11.5,
                                    color="#dcdcdc", align="left", baseline="alphabetic",
                                    clip=False).encode(x=alt.value(48), y=alt.value(154))

vol = alt.layer(vol_bars, cross_vol, logo_bg, logo_gear, logo_name, logo_tag).properties(
    width=W, height=H_VOL)

chart = alt.vconcat(main, vol, spacing=3).properties(
    padding={"left": -18, "top": -18, "right": 0, "bottom": -8},
    background="white",
).configure_view(stroke="black", strokeWidth=1)

chart.save("out.html", embed_options={"renderer": "svg", "actions": False})
